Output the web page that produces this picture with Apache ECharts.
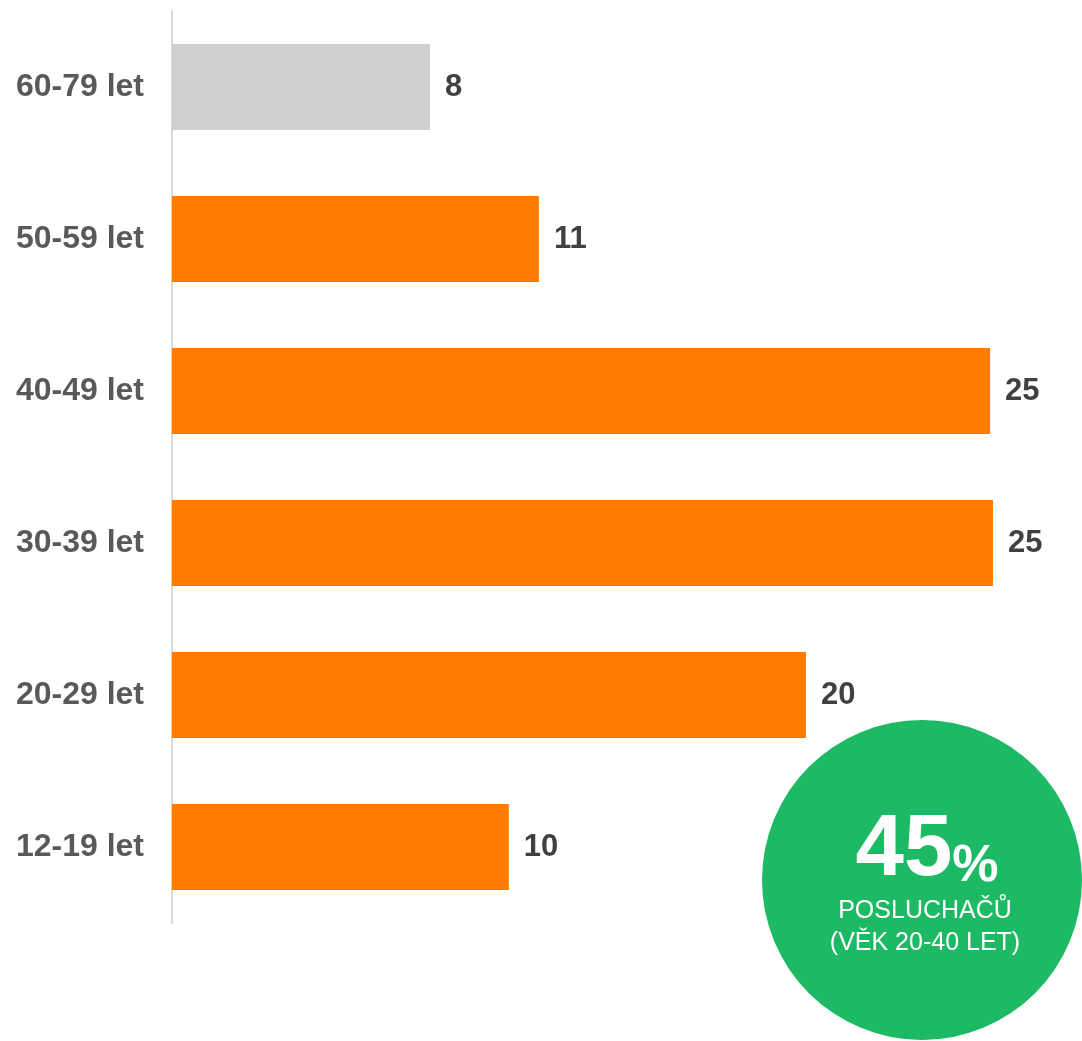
<!DOCTYPE html>
<html>
<head>
<meta charset="utf-8">
<style>html,body{margin:0;padding:0;background:#fff;}#chart{width:1082px;height:1041px;}</style>
<script src="https://cdn.jsdelivr.net/npm/echarts@6/dist/echarts.min.js"></script>
</head>
<body>
<div id="chart"></div>
<script>
const categories = ['60-79 let', '50-59 let', '40-49 let', '30-39 let', '20-29 let', '12-19 let'];
const values = [7.99, 11.36, 25.33, 25.42, 19.63, 10.43];
const barColors = ['#D0CECE', '#FF7C00', '#FF7C00', '#FF7C00', '#FF7C00', '#FF7C00'];
const highlightValue = '45';
const highlightUnit = '%';
const highlightLines = ['POSLUCHAČŮ', '(VĚK 20-40 LET)'];

const chart = echarts.init(document.getElementById('chart'));
const font = 'Liberation Sans, Arial, sans-serif';
chart.setOption({
  animation: false,
  grid: { left: 172, right: 38, top: 11, bottom: 118, containLabel: false },
  xAxis: { type: 'value', min: 0, max: 27, show: false },
  yAxis: {
    type: 'category', data: categories, inverse: true,
    axisLine: { show: true, lineStyle: { color: '#D9D9D9', width: 2 } },
    axisTick: { show: false },
    axisLabel: { margin: 28, color: '#595959', fontSize: 32, fontWeight: 'bold', fontFamily: font, padding: [8, 0, 0, 0] }
  },
  series: [{
    type: 'bar', barWidth: 86,
    data: values.map((v, i) => ({ value: v, itemStyle: { color: barColors[i] } })),
    label: {
      show: true, position: 'right', distance: 15,
      formatter: p => Math.round(p.value),
      color: '#404040', fontSize: 31, fontWeight: 'bold', fontFamily: font, padding: [8, 0, 0, 0]
    }
  }],
  graphic: [
    { type: 'circle', shape: { cx: 922, cy: 880, r: 160 }, style: { fill: '#1EB964' }, z: 10 },
    { type: 'text', z: 11, x: 927, y: 895,
      style: {
        text: '{a|' + highlightValue + '}{b|' + highlightUnit + '}',
        align: 'center', verticalAlign: 'bottom',
        rich: {
          a: { fontSize: 87, fontWeight: 'bold', fill: '#fff', fontFamily: font, verticalAlign: 'bottom' },
          b: { fontSize: 52, fontWeight: 'bold', fill: '#fff', fontFamily: font, verticalAlign: 'bottom', padding: [0, 0, 2, 0] }
        }
      } },
    { type: 'text', z: 11, x: 925, y: 895,
      style: {
        text: highlightLines.join('\n'), align: 'center', verticalAlign: 'top',
        fill: '#fff', fontSize: 25, lineHeight: 32, fontFamily: font
      } }
  ]
});
</script>
</body>
</html>
